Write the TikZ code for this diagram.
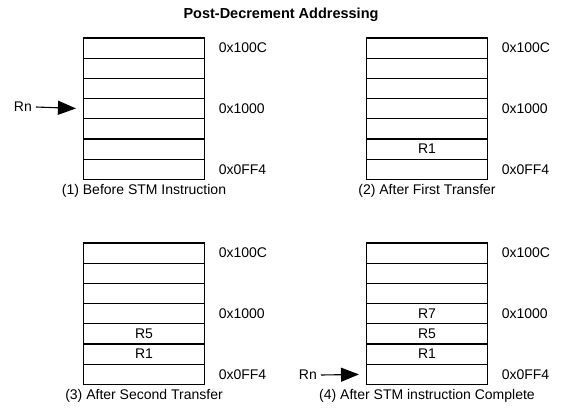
\documentclass[tikz,border=0pt]{standalone}
\usepackage{fontspec}
\setmainfont{Liberation Sans}
\usetikzlibrary{arrows.meta}
\begin{document}
\begin{tikzpicture}[x=1pt,y=-1pt,
  cell/.style={draw=black, line width=1.1pt, minimum width=121pt, minimum height=20.2pt, inner sep=0pt, font=\fontsize{14}{16}\selectfont},
  addr/.style={anchor=west, inner sep=0pt, font=\fontsize{14}{16}\selectfont},
  capt/.style={anchor=north, inner sep=0pt, font=\fontsize{14}{16}\selectfont},
  rnlab/.style={anchor=east, inner sep=0pt, font=\fontsize{14}{16}\selectfont},
  ptr/.style={line width=1.1pt, -{Triangle[length=18pt,width=14pt]}, shorten >=7pt},
  ttl/.style={inner sep=0pt, font=\fontsize{14.5}{17}\selectfont\bfseries}]
\useasboundingbox (0,0) rectangle (563,413);
\node[ttl] (title) at (281,15) {Post-Decrement Addressing};
% panel 1
\foreach \i in {1,...,7} \node[cell] (a\i) at (144,{38+(\i-0.5)*20.2}) {};
% panel 2
\foreach \i/\t in {1/,2/,3/,4/,5/,6/R1,7/} \node[cell] (b\i) at (427,{38+(\i-0.5)*20.2}) {\t};
% panel 3
\foreach \i/\t in {1/,2/,3/,4/,5/R5,6/R1,7/} \node[cell] (c\i) at (144,{243+(\i-0.5)*20.2}) {\t};
% panel 4
\foreach \i/\t in {1/,2/,3/,4/R7,5/R5,6/R1,7/} \node[cell] (d\i) at (427,{243+(\i-0.5)*20.2}) {\t};
% addresses
\foreach \p in {a,b,c,d}{
  \node[addr] (\p L1) at ([xshift=13.5pt]\p1.east) {0x100C};
  \node[addr] (\p L4) at ([xshift=13.5pt]\p4.east) {0x1000};
  \node[addr] (\p L7) at ([xshift=13.5pt]\p7.east) {0x0FF4};
}
% captions
\node[capt] (capa) at ([yshift=-4pt]a7.south) {(1) Before STM Instruction};
\node[capt] (capb) at ([yshift=-4pt]b7.south) {(2) After First Transfer};
\node[capt] (capc) at ([yshift=-4pt]c7.south) {(3) After Second Transfer};
\node[capt] (capd) at ([yshift=-4pt]d7.south) {(4) After STM instruction Complete};
% Rn pointers
\node[rnlab] (rn1) at (32,107) {Rn};
\draw[ptr] ([xshift=4pt]rn1.east) -- (a4.west);
\node[rnlab] (rn2) at (317,375) {Rn};
\draw[ptr] ([xshift=4pt]rn2.east) -- (d7.west);
\end{tikzpicture}
\end{document}
